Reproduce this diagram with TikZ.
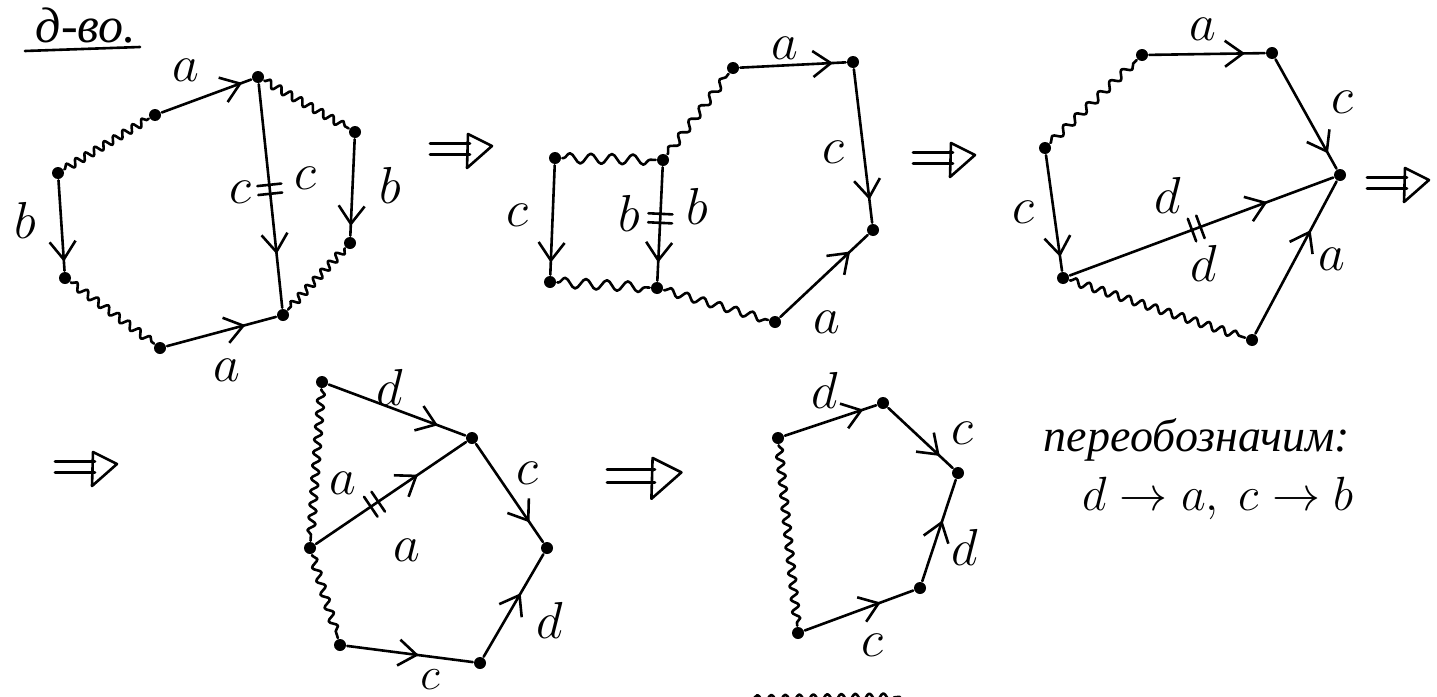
\RequirePackage{fix-cm}
\documentclass[tikz,border=0pt]{standalone}
\usepackage{fontspec}
\setmainfont{Liberation Serif}
\usetikzlibrary{arrows.meta,decorations.pathmorphing,decorations.markings}
\begin{document}
\begin{tikzpicture}[x=1pt,y=-1pt,
  line width=2.6pt, line cap=round, line join=round,
  dot/.style={circle,fill=black,draw=none,inner sep=0pt,minimum size=12pt},
  lab/.style={inner sep=0pt,font=\fontsize{52}{52}\selectfont},
  txt/.style={inner sep=0pt,font=\fontsize{46}{50}\selectfont\itshape},
  arr/.style={postaction={decorate,decoration={markings,mark=at position #1 with {\arrow{Straight Barb[length=18pt,width=26pt]}}}}},
  ticks/.style={postaction={decorate,decoration={markings,mark=at position #1 with {\draw[line width=2.6pt] (-4.5pt,-12pt)--(-4.5pt,12pt) (4.5pt,-12pt)--(4.5pt,12pt);}}}},
  wavy/.style={decorate,decoration={snake,segment length=#1,amplitude=3.8pt,pre length=1pt,post length=1pt}},
  wavy/.default=12pt,
  implies/.pic={\draw (0,-5.5)--(40,-5.5) (0,5.5)--(40,5.5); \draw (38,-15)--(62,-3)--(37,19)--cycle;}
]
\useasboundingbox (0,0) rectangle (1437,696);

% title
\node[txt,font=\fontsize{50}{50}\selectfont\itshape] (title) at (86,26) {д-во.};
\coordinate (ul1) at (25,51);
\coordinate (ul2) at (140,47);
\draw (ul1) -- (ul2);

% ---------- figure 1 ----------
\node[dot] (A1) at (258,77) {};
\node[dot] (A2) at (155,115) {};
\node[dot] (A3) at (58,173) {};
\node[dot] (A4) at (65,278) {};
\node[dot] (A5) at (160,348) {};
\node[dot] (A6) at (283,315) {};
\node[dot] (A7) at (350,243) {};
\node[dot] (A8) at (355,132) {};
\draw[arr=0.9] (A2) -- (A1);
\draw[wavy=11pt] (A3) -- (A2);
\draw[arr=0.9] (A3) -- (A4);
\draw[wavy=13pt] (A4) -- (A5);
\draw[arr=0.72] (A5) -- (A6);
\draw[arr=0.76,ticks=0.47] (A1) -- (A6);
\draw[wavy=12pt] (A1) -- (A8);
\draw[arr=0.9] (A8) -- (A7);
\draw[wavy=11pt] (A7) -- (A6);
\node[lab] (la1) at (186,70) {$a$};
\node[lab] (lb1) at (25,220) {$b$};
\node[lab] (lc1) at (240,192) {$c$};
\node[lab] (lc2) at (305,178) {$c$};
\node[lab] (lb2) at (390,185) {$b$};
\node[lab] (la2) at (227,370) {$a$};

\pic at (430,149) {implies};

% ---------- figure 2 ----------
\node[dot] (B1) at (733,68) {};
\node[dot] (B2) at (853,62) {};
\node[dot] (B3) at (873,230) {};
\node[dot] (B4) at (775,322) {};
\node[dot] (B5) at (657,288) {};
\node[dot] (B6) at (550,282) {};
\node[dot] (B7) at (555,158) {};
\node[dot] (B8) at (663,160) {};
\draw[arr=0.88] (B1) -- (B2);
\draw[arr=0.85] (B2) -- (B3);
\draw[arr=0.8] (B4) -- (B3);
\draw[wavy=17pt] (B5) -- (B4);
\draw[wavy=21pt,decoration={amplitude=5pt}] (B6) -- (B5);
\draw[arr=0.89] (B7) -- (B6);
\draw[wavy=21pt,decoration={amplitude=5pt}] (B7) -- (B8);
\draw[arr=0.84,ticks=0.45] (B8) -- (B5);
\draw[wavy=17pt] (B8) -- (B1);
\node[lab] (lb3) at (785,48) {$a$};
\node[lab] (lb4) at (833,152) {$c$};
\node[lab] (lb5) at (827,322) {$a$};
\node[lab] (lb6) at (517,215) {$c$};
\node[lab] (lb7) at (629,213) {$b$};
\node[lab] (lb8) at (697,206) {$b$};

\pic at (913,158) {implies};

% ---------- figure 3 ----------
\node[dot] (C1) at (1142,55) {};
\node[dot] (C2) at (1272,53) {};
\node[dot] (C3) at (1340,175) {};
\node[dot] (C4) at (1252,340) {};
\node[dot] (C5) at (1063,278) {};
\node[dot] (C6) at (1045,148) {};
\draw[arr=0.83] (C1) -- (C2);
\draw[arr=0.86] (C2) -- (C3);
\draw[arr=0.68] (C4) -- (C3);
\draw[arr=0.75,ticks=0.48] (C5) -- (C3);
\draw[arr=0.88] (C6) -- (C5);
\draw[wavy=16pt] (C6) -- (C1);
\draw[wavy=14pt] (C5) -- (C4);
\node[lab] (lc3) at (1203,29) {$a$};
\node[lab] (lc4) at (1342,102) {$c$};
\node[lab] (lc5) at (1168,195) {$d$};
\node[lab] (lc6) at (1204,263) {$d$};
\node[lab] (lc7) at (1332,259) {$a$};
\node[lab] (lc8) at (1023,212) {$c$};

\pic at (1367,183) {implies};

% ---------- figure 4 ----------
\pic at (55,467) {implies};
\node[dot] (D1) at (322,382) {};
\node[dot] (D2) at (472,438) {};
\node[dot] (D3) at (547,548) {};
\node[dot] (D4) at (480,663) {};
\node[dot] (D5) at (340,645) {};
\node[dot] (D6) at (310,548) {};
\draw[arr=0.8] (D1) -- (D2);
\draw[arr=0.8] (D2) -- (D3);
\draw[arr=0.62] (D4) -- (D3);
\draw[arr=0.57] (D5) -- (D4);
\draw[arr=0.68,ticks=0.39] (D6) -- (D2);
\draw[wavy=13pt] (D1) -- (D6);
\draw[wavy=14pt] (D6) -- (D5);
\node[lab] (ld1) at (390,387) {$d$};
\node[lab] (ld2) at (527,473) {$c$};
\node[lab] (ld3) at (343,483) {$a$};
\node[lab] (ld4) at (407,550) {$a$};
\node[lab] (ld5) at (550,620) {$d$};
\node[lab,font=\fontsize{46}{46}\selectfont] (ld6) at (430,680) {$c$};

% ---------- figure 5 ----------
\pic[scale=1.2] at (607,476) {implies};
\node[dot] (E1) at (778,438) {};
\node[dot] (E2) at (883,403) {};
\node[dot] (E3) at (958,473) {};
\node[dot] (E4) at (920,588) {};
\node[dot] (E5) at (798,633) {};
\draw[arr=0.86] (E1) -- (E2);
\draw[arr=0.8] (E2) -- (E3);
\draw[arr=0.6] (E4) -- (E3);
\draw[arr=0.7] (E5) -- (E4);
\draw[wavy=13pt] (E1) -- (E5);
\node[lab] (le1) at (825,390) {$d$};
\node[lab] (le2) at (962,433) {$c$};
\node[lab] (le3) at (965,547) {$d$};
\node[lab] (le4) at (872,645) {$c$};

% relabelling note
\node[txt] (note1) at (1197,440) {переобозначим:};
\node[lab,font=\fontsize{48}{48}\selectfont] (note2) at (1218,498) {$d\to a,\ c\to b$};

% wavy fragment cut by the bottom edge
\coordinate (w1) at (752,699);
\coordinate (w2) at (900,697);
\draw[wavy=14pt] (w1) -- (w2);
\end{tikzpicture}
\end{document}
